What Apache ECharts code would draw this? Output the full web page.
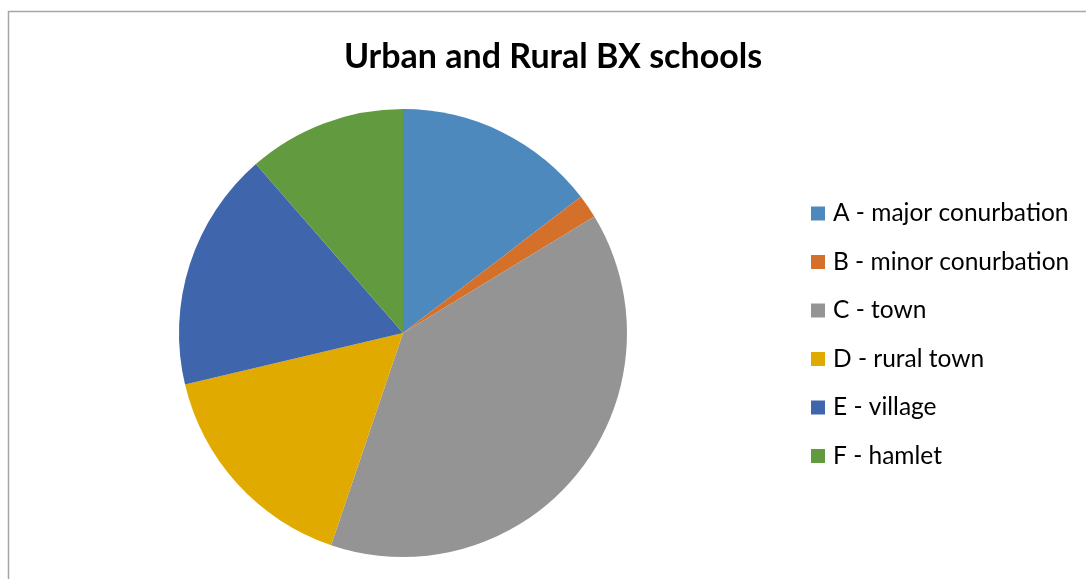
<!DOCTYPE html>
<html>
<head>
<meta charset="utf-8">
<style>
  html, body { margin: 0; padding: 0; background: #ffffff; }
  #chart { width: 1086px; height: 579px; }
</style>
<script src="https://cdn.jsdelivr.net/npm/echarts@6/dist/echarts.min.js"></script>
</head>
<body>
<div id="chart"></div>
<script>
// School locations by settlement type (share of schools, %)
const categories = [
  'A - major conurbation',
  'B - minor conurbation',
  'C - town',
  'D - rural town',
  'E - village',
  'F - hamlet'
];
const shares = [14.6, 1.7, 38.9, 16.1, 17.3, 11.4];
const sliceColors = ['#4E89BE', '#D5702A', '#949494', '#E1AA00', '#3F65AD', '#629B3F'];

const chart = echarts.init(document.getElementById('chart'), null, { renderer: 'canvas' });

chart.setOption({
  animation: false,
  backgroundColor: '#ffffff',
  title: {
    text: 'Urban and Rural BX schools',
    left: 553,
    top: 40,
    padding: 0,
    textAlign: 'center',
    textStyle: {
      fontFamily: 'Lato',
      fontWeight: 'bold',
      fontSize: 34,
      color: '#000000'
    }
  },
  legend: {
    orient: 'vertical',
    left: 811,
    top: 201,
    padding: 0,
    itemWidth: 14,
    itemHeight: 14,
    itemGap: 23.5,
    icon: 'rect',
    data: categories,
    textStyle: {
      fontFamily: 'Lato',
      fontSize: 24.5,
      color: '#000000',
      padding: [0, 0, 0, 3]
    }
  },
  graphic: [{
    type: 'rect',
    shape: { x: 8.5, y: 11.5, width: 1200, height: 700 },
    style: { fill: 'none', stroke: '#a6a6a6', lineWidth: 1.5 },
    silent: true
  }],
  series: [{
    type: 'pie',
    center: [403, 333],
    radius: 224,
    startAngle: 90,
    clockwise: true,
    label: { show: false },
    labelLine: { show: false },
    itemStyle: { borderWidth: 0 },
    emphasis: { disabled: true },
    data: categories.map((name, i) => ({
      name,
      value: shares[i],
      itemStyle: { color: sliceColors[i] }
    }))
  }]
});
</script>
</body>
</html>
